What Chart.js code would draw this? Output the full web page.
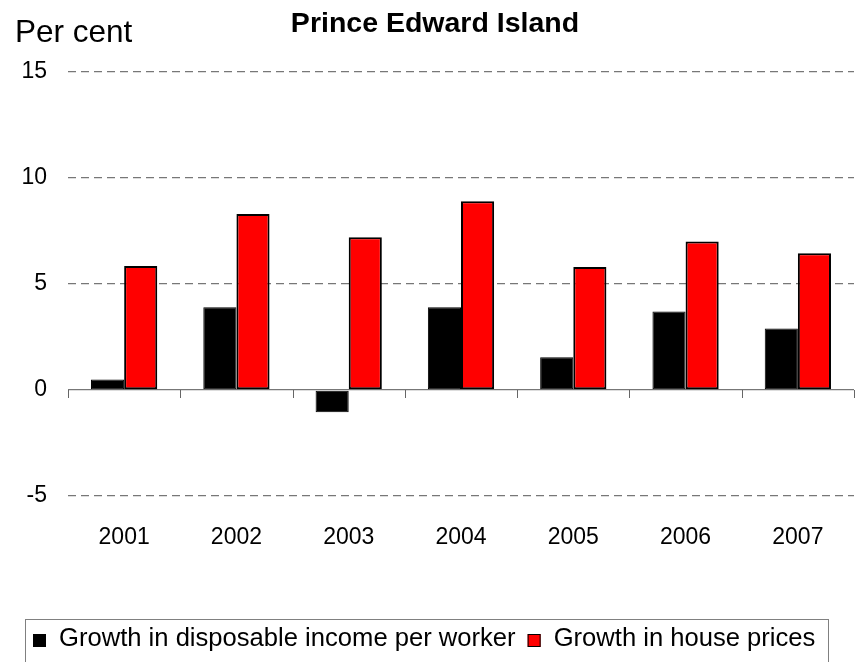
<!DOCTYPE html>
<html>
<head>
<meta charset="utf-8">
<title>Prince Edward Island</title>
<script src="https://cdn.jsdelivr.net/npm/chart.js@4.4.1/dist/chart.umd.min.js"></script>
<style>
    html, body { margin: 0; padding: 0; background: #fff; }
    #wrap { width: 864px; height: 662px; }
</style>
</head>
<body>
<div id="wrap"><canvas id="peiChart" width="864" height="662"></canvas></div>
<script>
const FONT = '"Liberation Sans", Arial, sans-serif';

const years = ['2001', '2002', '2003', '2004', '2005', '2006', '2007'];
const incomeGrowth = [0.5, 3.9, -1.05, 3.9, 1.55, 3.7, 2.9];
const housePriceGrowth = [5.85, 8.3, 7.2, 8.9, 5.8, 7.0, 6.45];
const yTicks = [-5, 0, 5, 10, 15];

const chartTitle = 'Prince Edward Island';
const unitLabel = 'Per cent';

// titles, zero-line tick marks and the boxed legend
const decorations = {
    id: 'decorations',
    beforeDatasetsDraw(chart) {
        const ctx = chart.ctx;
        const x = chart.scales.x;
        const y = chart.scales.y;
        const zeroY = y.getPixelForValue(0);
        const half = (x.getPixelForValue(1) - x.getPixelForValue(0)) / 2;
        ctx.save();
        ctx.strokeStyle = '#666';
        ctx.lineWidth = 1;
        for (let i = 0; i <= years.length; i++) {
            const px = Math.round(x.getPixelForValue(i) - half) + 0.5;
            ctx.beginPath();
            ctx.moveTo(px, zeroY);
            ctx.lineTo(px, zeroY + 8);
            ctx.stroke();
        }
        ctx.restore();
    },
    afterDraw(chart) {
        const ctx = chart.ctx;
        ctx.save();
        ctx.fillStyle = '#000';
        ctx.textBaseline = 'middle';

        ctx.font = 'bold 28.5px ' + FONT;
        ctx.textAlign = 'center';
        ctx.fillText(chartTitle, 435, 24);

        ctx.font = '31.5px ' + FONT;
        ctx.textAlign = 'left';
        ctx.fillText(unitLabel, 15, 33);

        // legend box
        ctx.strokeStyle = '#808080';
        ctx.lineWidth = 1;
        ctx.strokeRect(25.5, 619.5, 803, 50);

        ctx.font = '25.6px ' + FONT;
        let lx = 33;
        chart.data.datasets.forEach((ds) => {
            ctx.fillStyle = ds.backgroundColor;
            ctx.fillRect(lx, 634, 13, 13);
            ctx.strokeStyle = '#000';
            ctx.strokeRect(lx + 0.5, 634.5, 12, 12);
            ctx.fillStyle = '#000';
            ctx.fillText(ds.label, lx + 26, 639);
            lx += 26 + ctx.measureText(ds.label).width + 12;
        });
        ctx.restore();
    }
};

let ctx = document.getElementById('peiChart').getContext('2d');
let chart = new Chart(ctx, {
    type: 'bar',
    data: {
        labels: years,
        datasets: [{
            label: 'Growth in disposable income per worker',
            data: incomeGrowth,
            backgroundColor: '#000000',
            borderColor: '#000000',
            borderWidth: 1,
            borderSkipped: false
        }, {
            label: 'Growth in house prices',
            data: housePriceGrowth,
            backgroundColor: '#ff0000',
            borderColor: '#000000',
            borderWidth: 2,
            borderSkipped: false
        }]
    },
    options: {
        responsive: false,
        animation: false,
        layout: {
            padding: { top: 72, right: 10, bottom: 0, left: 0 }
        },
        datasets: {
            bar: { categoryPercentage: 0.59, barPercentage: 1 }
        },
        plugins: {
            legend: { display: false },
            title: { display: false },
            tooltip: { enabled: false }
        },
        scales: {
            x: {
                grid: { display: false, drawTicks: false },
                border: { display: false },
                ticks: {
                    color: '#000',
                    padding: 28,
                    font: { family: FONT, size: 23 }
                },
                afterFit(scale) { scale.height = 166; }
            },
            y: {
                min: -5,
                max: 15,
                afterBuildTicks(scale) {
                    scale.ticks = yTicks.map((v) => ({ value: v }));
                },
                grid: {
                    color: '#777',
                    lineWidth: 1.3,
                    drawTicks: false
                },
                border: {
                    display: false,
                    dash: (c) => (c.tick && c.tick.value === 0 ? [] : [8, 5])
                },
                ticks: {
                    color: '#000',
                    padding: 21,
                    font: { family: FONT, size: 23 }
                },
                afterFit(scale) { scale.width = 68; }
            }
        }
    },
    plugins: [decorations]
});
</script>
</body>
</html>
